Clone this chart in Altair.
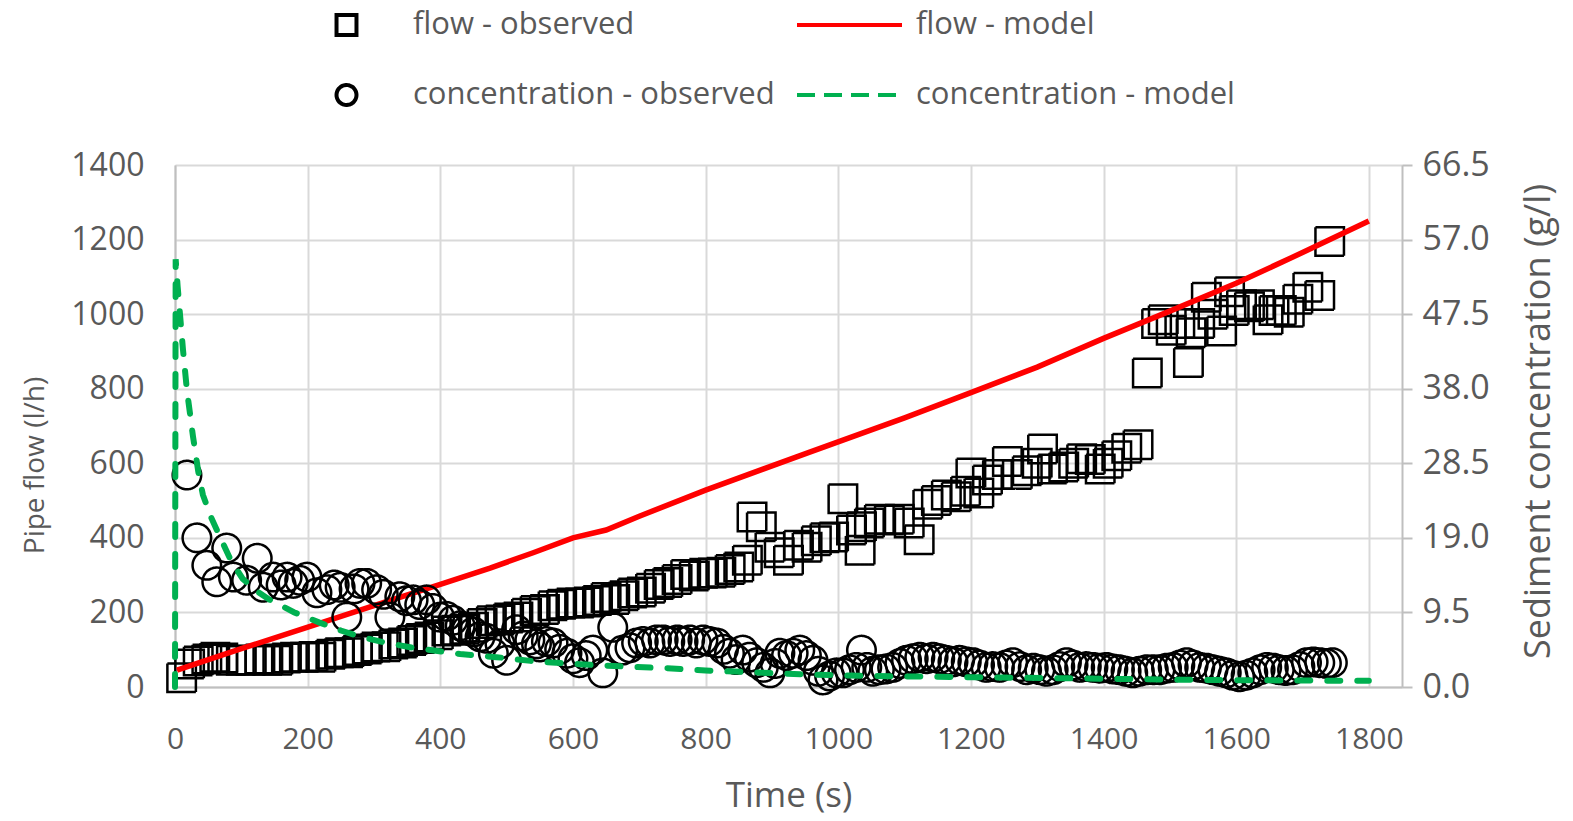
import altair as alt
import pandas as pd

# ---------------- data ----------------
# order of legend entries (the legend fills its grid column by column)
series_names = ["flow - observed", "concentration - observed", "flow - model", "concentration - model"]

flow_obs_t = [10, 22, 35, 48, 60, 72, 85, 100, 115, 128, 140, 155, 168, 180, 195, 208, 220, 235, 248, 262,
              275, 290, 303, 318, 330, 343, 357, 370, 383, 397, 410, 423, 437, 450, 463, 477, 490, 503, 517, 530,
              543, 557, 570, 583, 597, 610, 623, 637, 650, 663, 677, 690, 703, 717, 730, 743, 757, 770, 783, 797,
              810, 823, 837, 850, 863, 870, 884, 897, 911, 925, 940, 953, 967, 980, 993, 1007, 1020, 1033, 1035, 1047,
              1062, 1077, 1092, 1107, 1122, 1135, 1148, 1163, 1178, 1192, 1200, 1212, 1225, 1240, 1255, 1270, 1285, 1300, 1308, 1323,
              1340, 1355, 1367, 1380, 1395, 1407, 1420, 1435, 1452, 1466, 1480, 1490, 1502, 1515, 1528, 1532, 1545, 1555, 1565, 1578,
              1590, 1597, 1608, 1620, 1635, 1648, 1657, 1668, 1680, 1693, 1708, 1726, 1741]
flow_obs_v = [25, 62, 70, 75, 80, 78, 72, 72, 72, 75, 72, 72, 78, 80, 80, 82, 80, 88, 92, 92,
              98, 102, 107, 108, 115, 118, 125, 130, 134, 140, 150, 152, 155, 160, 170, 178, 180, 185, 188, 198,
              205, 208, 218, 222, 225, 225, 228, 232, 240, 235, 245, 252, 255, 265, 275, 280, 288, 302, 298, 305,
              306, 308, 315, 322, 340, 456, 430, 375, 360, 340, 380, 375, 392, 400, 402, 505, 421, 367, 430, 440,
              450, 448, 450, 440, 395, 490, 500, 515, 510, 525, 574, 520, 555, 570, 605, 570, 580, 600, 638, 585,
              590, 600, 612, 610, 585, 600, 620, 640, 650, 842, 975, 985, 957, 975, 870, 950, 975, 1045, 1000, 955,
              1060, 1010, 1025, 1020, 1025, 985, 1010, 1010, 1005, 1040, 1072, 1050, 1195]

flow_mod_t = [3, 100, 198, 300, 400, 475, 540, 600, 650, 700, 800, 957, 1100, 1198, 1300, 1400, 1500, 1600, 1700, 1800]
flow_mod_v = [45, 103, 159, 218, 275, 319, 360, 400, 421, 458, 528, 630, 722, 788, 858, 935, 1008, 1083, 1165, 1250]

conc_obs_t = [18, 33, 48, 63, 78, 88, 108, 124, 133, 148, 160, 169, 178, 188, 199, 214, 229, 240, 249, 259,
              270, 279, 289, 304, 314, 324, 339, 349, 359, 369, 379, 389, 399, 409, 419, 430, 440, 450, 460, 470,
              480, 490, 500, 515, 525, 535, 545, 550, 560, 570, 580, 591, 600, 610, 620, 630, 645, 660, 675, 686,
              696, 706, 716, 726, 736, 746, 757, 766, 776, 786, 796, 806, 817, 827, 836, 846, 856, 866, 877, 887,
              897, 905, 912, 922, 932, 942, 952, 962, 970, 977, 987, 997, 1007, 1017, 1027, 1035, 1043, 1052, 1062, 1072,
              1082, 1093, 1103, 1113, 1123, 1133, 1143, 1153, 1163, 1173, 1183, 1193, 1203, 1213, 1223, 1233, 1243, 1253, 1263, 1274,
              1284, 1294, 1304, 1314, 1324, 1334, 1344, 1354, 1364, 1374, 1384, 1394, 1404, 1414, 1424, 1434, 1444, 1454, 1465, 1475,
              1485, 1495, 1505, 1515, 1525, 1535, 1545, 1555, 1565, 1575, 1585, 1595, 1605, 1615, 1625, 1636, 1646, 1656, 1665, 1675,
              1685, 1696, 1706, 1716, 1726, 1736, 1745]
conc_obs_v = [27.0, 19.0, 15.5, 13.4, 17.7, 14.0, 13.6, 16.4, 12.7, 14.0, 13.0, 14.0, 13.2, 13.6, 14.0, 12.0, 12.4, 13.0, 12.7, 8.9,
              12.5, 13.2, 13.2, 12.4, 11.8, 8.9, 11.5, 11.0, 11.1, 10.5, 11.1, 10.0, 8.9, 9.0, 8.5, 7.8, 7.3, 7.0, 6.4, 6.2,
              4.3, 5.5, 3.4, 7.3, 6.5, 6.0, 5.5, 5.1, 5.8, 5.6, 4.8, 4.3, 3.6, 3.1, 4.0, 4.7, 1.8, 7.6, 4.7, 5.0,
              5.6, 5.8, 5.6, 6.0, 6.0, 5.8, 6.0, 5.8, 6.0, 5.6, 6.0, 5.8, 5.6, 4.8, 4.3, 3.5, 4.7, 3.8, 3.1, 2.5,
              1.8, 3.0, 4.3, 4.0, 4.3, 4.7, 4.0, 3.4, 2.0, 0.9, 1.4, 1.8, 1.8, 2.2, 2.5, 4.7, 2.5, 2.0, 2.2, 2.3,
              2.5, 3.0, 3.4, 3.6, 3.8, 3.6, 3.8, 3.6, 3.4, 3.2, 3.4, 3.2, 3.1, 2.8, 2.5, 2.6, 2.5, 2.8, 3.1, 2.6,
              2.2, 2.4, 2.2, 2.0, 2.2, 2.6, 3.1, 2.8, 2.5, 2.6, 2.5, 2.4, 2.5, 2.3, 2.2, 2.0, 1.8, 2.0, 2.2, 2.2,
              2.2, 2.4, 2.5, 2.8, 3.1, 2.8, 2.5, 2.4, 2.2, 2.0, 1.8, 1.5, 1.3, 1.5, 1.8, 2.2, 2.5, 2.4, 2.2, 2.1,
              2.2, 2.6, 3.1, 3.2, 3.1, 3.0, 3.1]

conc_mod_t = [0, 1, 4, 8, 12, 18, 27, 35, 42, 55, 68, 85, 102, 120, 143, 180, 218, 250, 279, 320,
              359, 430, 485, 550, 610, 680, 741, 800, 862, 950, 1050, 1150, 1250, 1350, 1450, 1550, 1650, 1750, 1800]
conc_mod_v = [0.0, 54.5, 51.0, 47.0, 43.0, 37.8, 32.0, 27.5, 24.5, 21.5, 19.1, 16.0, 13.8, 12.4, 11.1, 9.5, 8.2, 7.2, 6.4, 5.6,
              5.0, 4.2, 3.8, 3.2, 2.9, 2.6, 2.4, 2.1, 1.9, 1.6, 1.4, 1.3, 1.2, 1.1, 1.0, 0.9, 0.85, 0.8, 0.8]

x_ticks = [0, 200, 400, 600, 800, 1000, 1200, 1400, 1600, 1800]
left_ticks = [0, 200, 400, 600, 800, 1000, 1200, 1400]
right_ticks = [0.0, 9.5, 19.0, 28.5, 38.0, 47.5, 57.0, 66.5]

# ---------------- styling ----------------
FONT = "Open Sans"
TXT = "#595959"
GRID = "#d9d9d9"
AXL = "#bfbfbf"

SQ = "M-0.19,-0.19H0.19V0.19H-0.19Z"
CI = "M0.19,0A0.19,0.19,0,1,1,-0.19,0A0.19,0.19,0,1,1,0.19,0Z"
LN = "M-1,0H1"
series_shapes = [SQ, CI, LN, LN]
series_colors = ["#000000", "#000000", "#ff0000", "#00b050"]
series_dashes = [[1, 0], [1, 0], [1, 0], [18, 9]]

sq_df = pd.DataFrame({"t": flow_obs_t, "v": flow_obs_v, "series": series_names[0]})
fm_df = pd.DataFrame({"t": flow_mod_t, "v": flow_mod_v})
ci_df = pd.DataFrame({"t": conc_obs_t, "v": conc_obs_v, "series": series_names[1]})
cm_df = pd.DataFrame({"t": conc_mod_t, "v": conc_mod_v})

leg = alt.Legend(
    title=None, orient="none", legendX=117, legendY=-160, columns=2,
    symbolSize=11025, symbolStrokeWidth=4, clipHeight=40,
    labelFont=FONT, labelFontSize=31, labelColor=TXT, labelLimit=900, labelOffset=12,
    columnPadding=20, rowPadding=30, padding=0,
)

x_axis = alt.Axis(
    values=x_ticks, format="d", title="Time (s)", grid=True, gridColor=GRID, gridWidth=2,
    domainColor=AXL, domainWidth=2, ticks=False, labelPadding=37, labelFlush=False,
    labelFont=FONT, labelFontSize=30, labelColor=TXT,
    titleFont=FONT, titleFontSize=35, titleColor=TXT, titleFontWeight="normal",
    titleY=108, titleBaseline="middle",
)
left_axis = alt.Axis(
    values=left_ticks, format="d", title="Pipe flow (l/h)", orient="left", grid=True, gridColor=GRID, gridWidth=2,
    domainColor=AXL, domainWidth=2, ticks=False, labelPadding=31, labelFlush=False,
    labelFont=FONT, labelFontSize=32, labelColor=TXT,
    titleFont=FONT, titleFontSize=28, titleColor=TXT, titleFontWeight="normal",
    titleAngle=270, titleX=-140, titleY=300, titleBaseline="middle", titleAlign="center",
)
right_axis = alt.Axis(
    values=right_ticks, format=".1f", title="Sediment concentration (g/l)", orient="right", grid=False,
    domainColor=AXL, domainWidth=2, ticks=True, tickSize=10, tickColor=AXL, tickWidth=2, labelPadding=10,
    labelFlush=False,
    labelFont=FONT, labelFontSize=34, labelColor=TXT,
    titleFont=FONT, titleFontSize=36, titleColor=TXT, titleFontWeight="normal",
    titleAngle=270, titleX=136, titleY=256, titleBaseline="middle", titleAlign="center",
)

x_enc = alt.X("t:Q", scale=alt.Scale(domain=[0, 1850], nice=False), axis=x_axis)
y_left = alt.Y("v:Q", scale=alt.Scale(domain=[0, 1400], nice=False), axis=left_axis)
y_right = alt.Y("v:Q", scale=alt.Scale(domain=[0, 66.5], nice=False), axis=right_axis)

legend_enc = dict(
    color=alt.Color("series:N", scale=alt.Scale(domain=series_names, range=series_colors), legend=leg),
    shape=alt.Shape("series:N", scale=alt.Scale(domain=series_names, range=series_shapes), legend=leg),
    strokeDash=alt.StrokeDash("series:N", scale=alt.Scale(domain=series_names, range=series_dashes), legend=leg),
)

squares = alt.Chart(sq_df).mark_point(filled=False, size=22500, strokeWidth=2.5, opacity=1).encode(
    x=x_enc, y=y_left, **legend_enc)
flow_line = alt.Chart(fm_df).mark_line(color="#ff0000", strokeWidth=5.5).encode(x=x_enc, y=y_left)

circles = alt.Chart(ci_df).mark_point(filled=False, size=22500, strokeWidth=2.5, opacity=1).encode(
    x=x_enc, y=y_right, **legend_enc)
conc_line = alt.Chart(cm_df).mark_line(color="#00b050", strokeWidth=6, strokeDash=[13, 17], strokeCap="round").encode(
    x=x_enc, y=y_right)

left = alt.layer(squares, flow_line)
right = alt.layer(circles, conc_line)

chart = alt.layer(left, right).resolve_scale(y="independent").properties(
    width=1227, height=522,
    padding={"left": 175, "top": 165, "right": 171, "bottom": 134},
    autosize=alt.AutoSizeParams(type="none"),
    background="white",
).configure_view(strokeWidth=0).configure(font=FONT)

chart.save("out.html", embed_options={"renderer": "svg", "actions": False})
